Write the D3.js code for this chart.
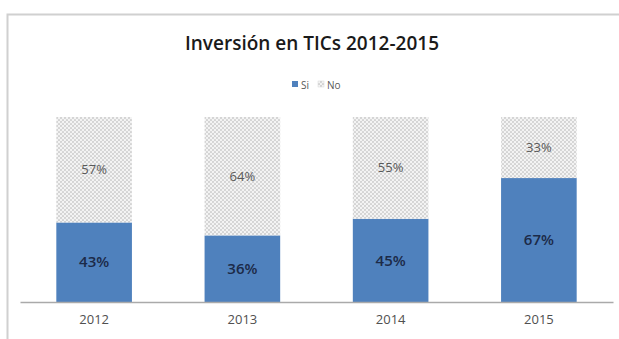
<!DOCTYPE html>
<html>
<head>
<meta charset="utf-8">
<script src="https://cdn.jsdelivr.net/npm/d3@7"></script>
<style>
  body { margin: 0; background: #fff; }
  text { font-family: "Open Sans", "Liberation Sans", sans-serif; }
</style>
</head>
<body>
<svg id="chart" width="619" height="339"></svg>
<script>
const years = ["2012", "2013", "2014", "2015"]
const si = [43, 36, 45, 67]
const no = [57, 64, 55, 33]
const seriesNames = ["Si", "No"]

const svg = d3.select("#chart")
const margin = {top: 117, right: 6, bottom: 37, left: 20}
const width = 619 - margin.left - margin.right
const height = 339 - margin.top - margin.bottom

// chart frame
svg.append("path")
    .attr("d", "M7.5,339 V14.5 H619")
    .attr("fill", "none")
    .attr("stroke", "#d0d0d0")
    .attr("stroke-width", 2)

// dotted pattern for "No"
const defs = svg.append("defs")
const pat = defs.append("pattern")
    .attr("id", "dots")
    .attr("patternUnits", "userSpaceOnUse")
    .attr("width", 4).attr("height", 4)
pat.append("rect").attr("width", 4).attr("height", 4).attr("fill", "#f4f4f4")
pat.append("circle").attr("cx", 1).attr("cy", 1).attr("r", 1.1).attr("fill", "#d2d2d2")
pat.append("circle").attr("cx", 3).attr("cy", 3).attr("r", 1.1).attr("fill", "#d2d2d2")

svg.append("text")
    .attr("x", 312).attr("y", 50)
    .attr("text-anchor", "middle")
    .attr("font-size", 19)
    .attr("font-weight", 600)
    .attr("fill", "#1a1a1a")
    .text("Inversión en TICs 2012-2015")

// legend
const legend = svg.append("g").attr("transform", "translate(292,85)")
legend.append("rect").attr("x", 0).attr("y", -4).attr("width", 6).attr("height", 6).attr("fill", "#4f81bd")
legend.append("text").attr("x", 9).attr("y", 0).attr("dy", "0.35em").attr("font-size", 10).attr("fill", "#595959").text(seriesNames[0])
legend.append("rect").attr("x", 26).attr("y", -4).attr("width", 6).attr("height", 6).attr("fill", "url(#dots)").attr("stroke", "#d8d8d8").attr("stroke-width", 0.5)
legend.append("text").attr("x", 35).attr("y", 0).attr("dy", "0.35em").attr("font-size", 10).attr("fill", "#595959").text(seriesNames[1])

const g = svg.append("g").attr("transform", "translate(" + margin.left + "," + margin.top + ")")

const x = d3.scaleBand().domain(years).range([0, width]).paddingInner(0.49).paddingOuter(0.245)
const y = d3.scaleLinear().domain([0, 100]).range([height, 0])

const data = years.map((yr, i) => ({year: yr, si: si[i], no: no[i]}))

// Si bars
g.selectAll(".bar-si")
    .data(data)
    .enter().append("rect")
    .attr("class", "bar-si")
    .attr("x", d => x(d.year))
    .attr("y", d => y(d.si))
    .attr("width", x.bandwidth())
    .attr("height", d => height - y(d.si))
    .attr("fill", "#4f81bd")

// No bars
g.selectAll(".bar-no")
    .data(data)
    .enter().append("rect")
    .attr("class", "bar-no")
    .attr("x", d => x(d.year))
    .attr("y", d => y(d.si + d.no))
    .attr("width", x.bandwidth())
    .attr("height", d => y(d.si) - y(d.si + d.no))
    .attr("fill", "url(#dots)")

// labels
g.selectAll(".lab-si")
    .data(data)
    .enter().append("text")
    .attr("x", d => x(d.year) + x.bandwidth() / 2)
    .attr("y", d => y(d.si / 2))
    .attr("dy", "0.35em")
    .attr("text-anchor", "middle")
    .attr("font-size", 15)
    .attr("font-weight", 600)
    .attr("fill", "#1c2a48")
    .text(d => d.si + "%")

g.selectAll(".lab-no")
    .data(data)
    .enter().append("text")
    .attr("x", d => x(d.year) + x.bandwidth() / 2)
    .attr("y", d => y(d.si + d.no / 2))
    .attr("dy", "0.35em")
    .attr("text-anchor", "middle")
    .attr("font-size", 13)
    .attr("fill", "#595959")
    .text(d => d.no + "%")

// x axis
const axisX = d3.axisBottom(x).tickSize(0).tickPadding(13)
const ax = g.append("g")
    .attr("transform", "translate(0," + height + ")")
    .call(axisX)
ax.select(".domain").attr("stroke", "#aaaaaa").attr("stroke-width", 1.5)
ax.selectAll("text")
    .attr("font-size", 13)
    .attr("fill", "#505050")
    .style("font-family", "'Open Sans', sans-serif")
</script>
</body>
</html>
